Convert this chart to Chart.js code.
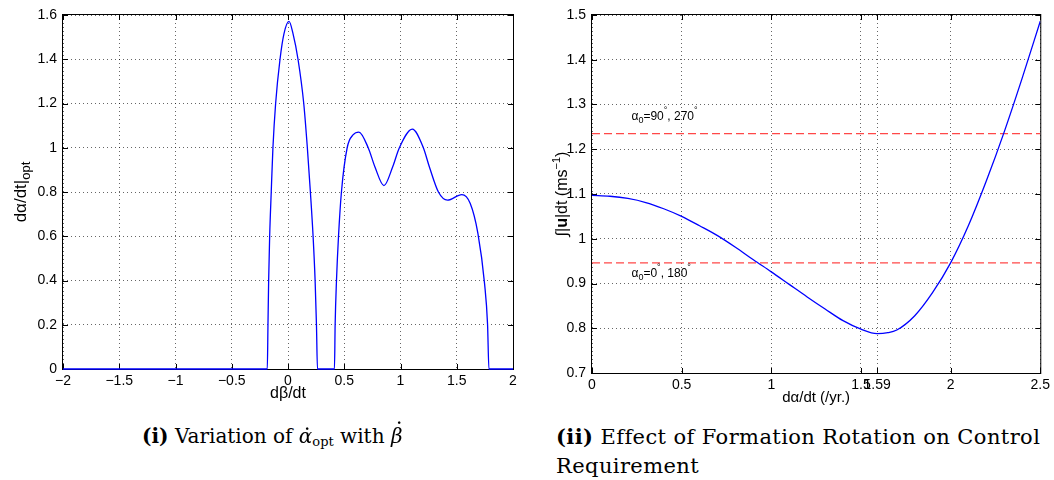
<!DOCTYPE html>
<html>
<head>
<meta charset="utf-8">
<script src="https://cdn.jsdelivr.net/npm/chart.js@4.4.1/dist/chart.umd.min.js"></script>
<style>
  body { margin: 0; background: #fff; width: 1054px; height: 480px; position: relative; overflow: hidden; }
  canvas { position: absolute; top: 0; }
  #leftChart { left: 0; }
  #rightChart { left: 530px; }
  .caption { position: absolute; font-family: "DejaVu Serif", "Liberation Serif", serif; font-size: 20px; line-height: 29px; color: #000; white-space: nowrap; }
  .caption sub { font-size: 13px; vertical-align: -3px; }
  .acc { position: relative; display: inline-block; font-style: italic; }
  .acc .dot { position: absolute; left: 0; right: 0; top: -13px; text-align: center; font-style: normal; padding-left: 3px; }
  .acc .dot.tall { top: -19px; padding-left: 5px; }
</style>
</head>
<body>
<canvas id="leftChart" width="530" height="410"></canvas>
<canvas id="rightChart" width="524" height="410"></canvas>
<div class="caption" style="left:142px; top:422px;"><b>(i)</b> Variation of <span class="acc">α<span class="dot">.</span></span><sub>opt</sub> with <span class="acc">β<span class="dot tall">.</span></span></div>
<div class="caption" style="left:556px; top:422px; font-size:21px; letter-spacing:0.4px;"><b>(ii)</b> Effect of Formation Rotation on Control<br>Requirement</div>
<script>
// (i) optimal alpha rate vs beta rate
const betaRate = [-2, -0.184, -0.178, -0.172, -0.163, -0.149, -0.134, -0.110, -0.071, -0.036, 0.009,
  0.045, 0.089, 0.14, 0.172, 0.199, 0.223, 0.241, 0.253, 0.262, 0.413, 0.419, 0.431, 0.449, 0.475,
  0.526, 0.58, 0.63, 0.713, 0.773, 0.853, 0.93, 0.99, 1.105, 1.203, 1.257, 1.337, 1.418, 1.545,
  1.62, 1.688, 1.747, 1.774, 1.786, 2];
const alphaOpt = [0, 0, 0.2, 0.4, 0.6, 0.8, 1.0, 1.2, 1.4, 1.515, 1.571,
  1.515, 1.4, 1.2, 1.0, 0.8, 0.6, 0.4, 0.2, 0, 0, 0.2, 0.4, 0.6, 0.8,
  1.0, 1.059, 1.071, 1.0, 0.913, 0.829, 0.913, 1.0, 1.084, 1.0, 0.913, 0.8, 0.763, 0.788,
  0.748, 0.613, 0.387, 0.2, 0, 0];
const leftXTicks = [-2, -1.5, -1, -0.5, 0, 0.5, 1, 1.5, 2];
const leftXLabels = ['\u22122', '\u22121.5', '\u22121', '\u22120.5', '0', '0.5', '1', '1.5', '2'];
const leftYTicks = [0, 0.2, 0.4, 0.6, 0.8, 1, 1.2, 1.4, 1.6];
const leftYLabels = ['0', '0.2', '0.4', '0.6', '0.8', '1', '1.2', '1.4', '1.6'];

// (ii) control requirement vs alpha rate
const alphaRate = [0, 0.1, 0.2, 0.3, 0.4, 0.5, 0.6, 0.7, 0.8, 0.9, 1.0, 1.1, 1.2, 1.3, 1.4, 1.5,
  1.59, 1.65, 1.7, 1.8, 1.9, 2.0, 2.1, 2.2, 2.3, 2.4, 2.5];
const controlReq = [1.097, 1.095, 1.090, 1.081, 1.067, 1.050, 1.029, 1.007, 0.981, 0.953, 0.926,
  0.898, 0.870, 0.843, 0.817, 0.798, 0.788, 0.790, 0.796, 0.828, 0.880, 0.946, 1.03, 1.13, 1.24,
  1.36, 1.486];
const refLevels = [1.235, 0.946];
const refLabelX = [0.22, 0.22];
const refLabelY = [1.273, 0.923];
const refLabelAngles = [['90', '270'], ['0', '180']];
const rightXTicks = [0, 0.5, 1, 1.5, 1.59, 2, 2.5];
const rightXLabels = ['0', '0.5', '1', '1.5', '1.59', '2', '2.5'];
const rightYTicks = [0.7, 0.8, 0.9, 1, 1.1, 1.2, 1.3, 1.4, 1.5];
const rightYLabels = ['0.7', '0.8', '0.9', '1', '1.1', '1.2', '1.3', '1.4', '1.5'];

const SANS = '"Liberation Sans", Arial, Helvetica, sans-serif';

// draw a list of text runs one after another, centred on (0,0) of the current transform
function drawRuns(ctx, runs, align) {
  let total = 0;
  runs.forEach(r => { ctx.font = r.font; r.w = ctx.measureText(r.text).width; total += r.w; });
  let x = align === 'left' ? 0 : -total / 2;
  ctx.textBaseline = 'middle';
  ctx.textAlign = 'left';
  runs.forEach(r => {
    ctx.font = r.font;
    ctx.fillText(r.text, x, r.dy || 0);
    x += r.w;
  });
}

const matlabFrame = {
  id: 'matlabFrame',
  beforeDatasetsDraw(chart) {
    const { ctx, chartArea: a, scales: { x, y } } = chart;
    ctx.save();
    ctx.strokeStyle = '#000';
    ctx.lineWidth = 1;
    ctx.strokeRect(a.left - 0.5, a.top - 0.5, a.right - a.left + 1, a.bottom - a.top + 1);
    ctx.beginPath();
    x.ticks.forEach(t => {
      const px = Math.round(x.getPixelForValue(t.value)) + 0.5;
      ctx.moveTo(px, a.bottom); ctx.lineTo(px, a.bottom - 5);
      ctx.moveTo(px, a.top); ctx.lineTo(px, a.top + 5);
    });
    y.ticks.forEach(t => {
      const py = Math.round(y.getPixelForValue(t.value)) + 0.5;
      ctx.moveTo(a.left, py); ctx.lineTo(a.left + 5, py);
      ctx.moveTo(a.right, py); ctx.lineTo(a.right - 5, py);
    });
    ctx.stroke();
    ctx.restore();
  },
  afterDraw(chart, args, opts) {
    const { ctx, chartArea: a, scales: { x, y } } = chart;
    ctx.save();
    ctx.fillStyle = '#000';
    // x title
    ctx.save();
    ctx.translate((a.left + a.right) / 2, a.bottom + 25);
    drawRuns(ctx, opts.xTitle);
    ctx.restore();
    // y title
    ctx.save();
    ctx.translate(opts.yTitleX, (a.top + a.bottom) / 2);
    ctx.rotate(-Math.PI / 2);
    drawRuns(ctx, opts.yTitle);
    ctx.restore();
    // text labels
    (opts.labels || []).forEach(l => {
      ctx.save();
      ctx.translate(x.getPixelForValue(l.x), y.getPixelForValue(l.y));
      drawRuns(ctx, l.runs, 'left');
      ctx.restore();
    });
    ctx.restore();
  }
};

function axisOpts(ticks, labels, pad) {
  return {
    type: 'linear',
    min: ticks[0],
    max: ticks[ticks.length - 1],
    afterBuildTicks: s => { s.ticks = ticks.map(v => ({ value: v })); },
    ticks: {
      autoSkip: false,
      maxRotation: 0,
      padding: pad,
      color: '#000',
      font: { family: SANS, size: 14 },
      callback: (v, i) => labels[i]
    },
    grid: { color: 'rgba(0,0,0,0.6)', lineWidth: 1, drawTicks: false },
    border: { display: false, dash: [1, 3] }
  };
}

const leftX = axisOpts(leftXTicks, leftXLabels, 4);
leftX.afterFit = s => { s.height = 41; };
const leftY = axisOpts(leftYTicks, leftYLabels, 6);
leftY.afterFit = s => { s.width = 63; };

new Chart(document.getElementById('leftChart'), {
  type: 'line',
  data: {
    datasets: [{
      data: betaRate.map((b, i) => ({ x: b, y: alphaOpt[i] })),
      borderColor: '#0000ff',
      borderWidth: 1.3,
      pointRadius: 0,
      cubicInterpolationMode: 'monotone',
      clip: 3
    }]
  },
  options: {
    responsive: false,
    animation: false,
    devicePixelRatio: 1,
    layout: { padding: { top: 15, right: 17, left: 0, bottom: 0 } },
    scales: { x: leftX, y: leftY },
    plugins: {
      legend: { display: false },
      tooltip: { enabled: false },
      matlabFrame: {
        xTitle: [{ text: 'd\u03b2/dt', font: '16px ' + SANS }],
        yTitleX: 21,
        yTitle: [
          { text: 'd\u03b1/dt|', font: '17px ' + SANS },
          { text: 'opt', font: '13px ' + SANS, dy: 5 }
        ]
      }
    }
  },
  plugins: [matlabFrame]
});

const rightX = axisOpts(rightXTicks, rightXLabels, 4);
rightX.afterFit = s => { s.height = 37; };
const rightY = axisOpts(rightYTicks, rightYLabels, 6);
rightY.afterFit = s => { s.width = 62; };

const refSets = refLevels.map(v => ({
  data: [{ x: rightXTicks[0], y: v }, { x: rightXTicks[rightXTicks.length - 1], y: v }],
  borderColor: 'rgba(255,40,40,0.85)',
  borderWidth: 1.3,
  borderDash: [8, 4],
  pointRadius: 0
}));

const labelFont = '12px ' + SANS;
const subFont = '9px ' + SANS;
const refLabels = refLabelAngles.map((ang, i) => ({
  x: refLabelX[i],
  y: refLabelY[i],
  runs: [
    { text: '\u03b1', font: labelFont },
    { text: '0', font: subFont, dy: 4 },
    { text: '=' + ang[0], font: labelFont },
    { text: '\u00b0', font: subFont, dy: -6 },
    { text: ', ' + ang[1], font: labelFont },
    { text: '\u00b0', font: subFont, dy: -6 }
  ]
}));

new Chart(document.getElementById('rightChart'), {
  type: 'line',
  data: {
    datasets: [{
      data: alphaRate.map((a, i) => ({ x: a, y: controlReq[i] })),
      borderColor: '#0000ff',
      borderWidth: 1.3,
      pointRadius: 0,
      cubicInterpolationMode: 'monotone'
    }].concat(refSets)
  },
  options: {
    responsive: false,
    animation: false,
    devicePixelRatio: 1,
    layout: { padding: { top: 15, right: 9, left: 0, bottom: 0 } },
    scales: { x: rightX, y: rightY },
    plugins: {
      legend: { display: false },
      tooltip: { enabled: false },
      matlabFrame: {
        xTitle: [{ text: 'd\u03b1/dt (/yr.)', font: '15px ' + SANS }],
        yTitleX: 33,
        yTitle: [
          { text: '\u222b|', font: '16px ' + SANS },
          { text: 'u', font: 'bold 16px ' + SANS },
          { text: '|dt (ms', font: '16px ' + SANS },
          { text: '\u22121', font: '11px ' + SANS, dy: -6 },
          { text: ')', font: '16px ' + SANS }
        ],
        labels: refLabels
      }
    }
  },
  plugins: [matlabFrame]
});
</script>
</body>
</html>
